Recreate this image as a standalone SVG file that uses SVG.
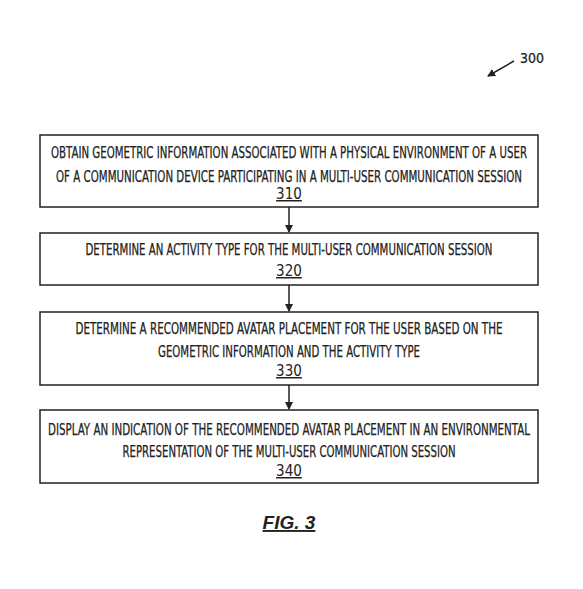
<svg xmlns="http://www.w3.org/2000/svg" width="583" height="589" viewBox="0 0 583 589">
<defs>
<style>
.box{fill:#fff;stroke:#222;stroke-width:1.5}
.t{font-family:"Liberation Sans Narrow","DejaVu Sans Condensed","Liberation Sans",sans-serif;font-size:15px;fill:#222;stroke:#222;stroke-width:0.25;text-anchor:middle}
.n{font-family:"Liberation Sans Narrow","DejaVu Sans Condensed","Liberation Sans",sans-serif;font-size:15px;fill:#222;text-anchor:middle;text-decoration:underline}
.c{stroke:#222;stroke-width:1.5;fill:none}
</style>
<marker id="ah" markerWidth="8" markerHeight="8" refX="7" refY="4" orient="auto" markerUnits="userSpaceOnUse">
<path d="M0,0 L8,4 L0,8 Z" fill="#222"/>
</marker>
</defs>
<rect width="583" height="589" fill="#fff"/>
<g id="ref300">
<text x="520" y="63" class="t" style="text-anchor:start;font-size:14px">300</text>
<line x1="514" y1="61" x2="488" y2="76" class="c" marker-end="url(#ah)"/>
</g>
<g id="n310">
<rect class="box" x="40" y="135" width="498" height="72"/>
<text class="t" x="289" y="158" textLength="476" lengthAdjust="spacingAndGlyphs">OBTAIN GEOMETRIC INFORMATION ASSOCIATED WITH A PHYSICAL ENVIRONMENT OF A USER</text>
<text class="t" x="289" y="182" textLength="466" lengthAdjust="spacingAndGlyphs">OF A COMMUNICATION DEVICE PARTICIPATING IN A MULTI-USER COMMUNICATION SESSION</text>
<text class="n" x="289" y="199">310</text>
</g>
<g id="n320">
<rect class="box" x="40" y="233" width="498" height="52"/>
<text class="t" x="289" y="255" textLength="407" lengthAdjust="spacingAndGlyphs">DETERMINE AN ACTIVITY TYPE FOR THE MULTI-USER COMMUNICATION SESSION</text>
<text class="n" x="289" y="276">320</text>
</g>
<g id="n330">
<rect class="box" x="40" y="312" width="498" height="73"/>
<text class="t" x="289" y="334" textLength="427" lengthAdjust="spacingAndGlyphs">DETERMINE A RECOMMENDED AVATAR PLACEMENT FOR THE USER BASED ON THE</text>
<text class="t" x="289" y="357" textLength="262" lengthAdjust="spacingAndGlyphs">GEOMETRIC INFORMATION AND THE ACTIVITY TYPE</text>
<text class="n" x="289" y="376">330</text>
</g>
<g id="n340">
<rect class="box" x="40" y="410" width="498" height="73"/>
<text class="t" x="289" y="435" textLength="482" lengthAdjust="spacingAndGlyphs">DISPLAY AN INDICATION OF THE RECOMMENDED AVATAR PLACEMENT IN AN ENVIRONMENTAL</text>
<text class="t" x="289" y="457" textLength="333" lengthAdjust="spacingAndGlyphs">REPRESENTATION OF THE MULTI-USER COMMUNICATION SESSION</text>
<text class="n" x="289" y="476">340</text>
</g>
<g id="connectors">
<line class="c" x1="289" y1="207" x2="289" y2="232" marker-end="url(#ah)"/>
<line class="c" x1="289" y1="285" x2="289" y2="311" marker-end="url(#ah)"/>
<line class="c" x1="289" y1="385" x2="289" y2="409" marker-end="url(#ah)"/>
</g>
<g id="fig">
<text x="289" y="529" style="font-family:'Liberation Sans',sans-serif;font-size:19px;font-style:italic;font-weight:bold;fill:#222;text-anchor:middle;text-decoration:underline">FIG. 3</text>
</g>
</svg>
